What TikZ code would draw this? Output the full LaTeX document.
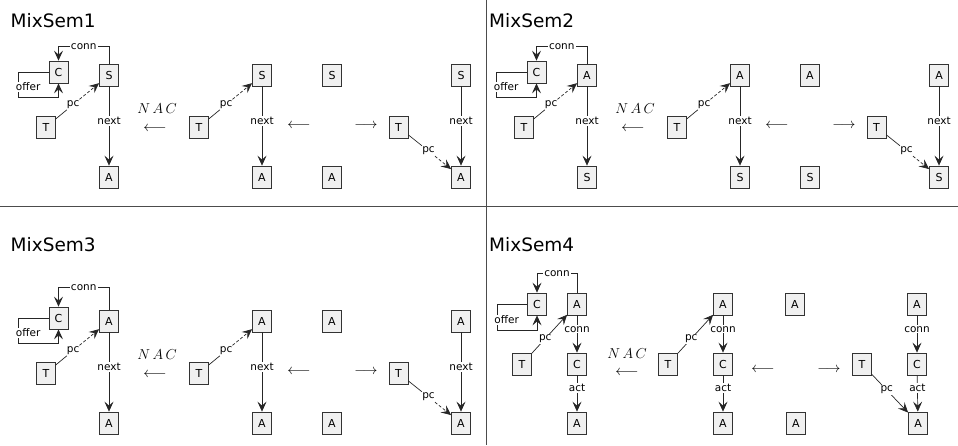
\documentclass[tikz,border=0pt]{standalone}
\usepackage{fontspec}
\setmainfont{DejaVu Sans}
\usetikzlibrary{arrows.meta, positioning}

\begin{document}
\begin{tikzpicture}[
  x=1pt, y=-1pt,
  every node/.style={font=\fontsize{10.5}{12}\selectfont, text=black},
  cls/.style={draw=black!80, fill=black!6, line width=0.75pt, minimum width=19pt,
    minimum height=22pt, inner sep=0pt, font=\fontsize{11}{12}\selectfont},
  lbl/.style={fill=white, inner sep=1pt},
  lnk/.style={draw=black!85, line width=0.7pt},
  arr/.style={lnk, -{Stealth[length=10pt,width=9pt,inset=4pt]}},
  dsh/.style={dash pattern=on 3pt off 2pt},
  nac/.style={font=\fontsize{14}{15}\selectfont, inner sep=0pt},
  ttl/.style={font=\fontsize{18.5}{20}\selectfont, anchor=base west, inner sep=0pt},
  rule/.style={draw=black!70, line width=0.7pt}
]
\useasboundingbox (0,0) rectangle (958,445);
% frame between the four rules
\draw[rule] (0,206) -- (958,206);
\draw[rule] (486,0) -- (486,445);
\foreach \p/\x/\y in {1/10.5/27.5, 2/489/27.5, 3/10.5/251.5, 4/489/251.5}
  \node[ttl] (hd\p) at (\x,\y) {MixSem\p};

% MixSem1..3: same shape, only the class names change
\foreach \p/\dx/\dy/\topc/\botc/\h in {1/0/0/S/A/17, 2/478/0/A/S/17, 3/0/246/A/A/22}{
  \begin{scope}[shift={(\dx,\dy)}]
    % NAC
    \node[cls] (c\p) at (58.5,72) {C};
    \node[cls] (s\p) at (109,75) {\topc};
    \node[cls] (t\p) at (46,127) {T};
    \node[cls] (a\p) at (109,177) {\botc};
    \draw[arr] (s\p.north) -- ++(0,-\h) -| node[lbl,pos=0.25] (cn\p) {conn} (c\p.north);
    \draw[arr] (c\p.west) -| ++(-30,25)
      node[lbl,pos=0.8,anchor=west,xshift=-4pt] (of\p) {offer} -| (c\p.south);
    \path (t\p) -- node[lbl,pos=0.4] (pc\p) {pc} (s\p);
    \draw[lnk] (t\p) -- (pc\p);
    \draw[arr,dsh] (pc\p) -- (s\p);
    \draw[arr] (s\p) -- node[lbl,pos=0.44] (nx\p) {next} (a\p);
    \node[nac] (nac\p) at (157,109) {$N\,A\,C$};
    \node[nac] (nl\p) at (155,129) {$\longleftarrow$};
    % left hand side
    \node[cls] (lt\p) at (199,127) {T};
    \node[cls] (ls\p) at (262,75) {\topc};
    \node[cls] (la\p) at (262,177) {\botc};
    \path (lt\p) -- node[lbl,pos=0.4] (lpc\p) {pc} (ls\p);
    \draw[lnk] (lt\p) -- (lpc\p);
    \draw[arr,dsh] (lpc\p) -- (ls\p);
    \draw[arr] (ls\p) -- node[lbl,pos=0.44] (lnx\p) {next} (la\p);
    \node[nac] (ll\p) at (299,126) {$\longleftarrow$};
    % interface
    \node[cls] (ks\p) at (332,75) {\topc};
    \node[cls] (ka\p) at (332,177) {\botc};
    \node[nac] (kr\p) at (366,126) {$\longrightarrow$};
    % right hand side
    \node[cls] (rt\p) at (398.5,127) {T};
    \node[cls] (rs\p) at (461,75) {\topc};
    \node[cls] (ra\p) at (461,177) {\botc};
    \path (rt\p) -- node[lbl,pos=0.47] (rpc\p) {pc} (ra\p);
    \draw[lnk] (rt\p) -- (rpc\p);
    \draw[arr,dsh] (rpc\p) -- (ra\p);
    \draw[arr] (rs\p) -- node[lbl,pos=0.44] (rnx\p) {next} (ra\p);
  \end{scope}
}

% MixSem4
\node[cls] (c4) at (537,304) {C};
\node[cls] (s4) at (577,304) {A};
\node[cls] (t4) at (522,364) {T};
\node[cls] (m4) at (577,364) {C};
\node[cls] (a4) at (577,423) {A};
\draw[arr] (s4.north) -- ++(0,-19) -| node[lbl,pos=0.25] (cn4) {conn} (c4.north);
\draw[arr] (c4.west) -| ++(-30,26)
  node[lbl,pos=0.8,anchor=west,xshift=-4pt] (of4) {offer} -| (c4.south);
\draw[arr] (t4) -- node[lbl,pos=0.38] (pc4) {pc} (s4);
\draw[arr] (s4) -- node[lbl,pos=0.37] (cm4) {conn} (m4);
\draw[arr] (m4) -- node[lbl,pos=0.35] (ac4) {act} (a4);
\node[nac] (nac4) at (627,354) {$N\,A\,C$};
\node[nac] (nl4) at (627,373) {$\longleftarrow$};
% left hand side
\node[cls] (lt4) at (668,364) {T};
\node[cls] (ls4) at (723,304) {A};
\node[cls] (lm4) at (723,364) {C};
\node[cls] (la4) at (723,423) {A};
\draw[arr] (lt4) -- node[lbl,pos=0.38] (lpc4) {pc} (ls4);
\draw[arr] (ls4) -- node[lbl,pos=0.37] (lcm4) {conn} (lm4);
\draw[arr] (lm4) -- node[lbl,pos=0.35] (lac4) {act} (la4);
\node[nac] (ll4) at (763,370) {$\longleftarrow$};
% interface
\node[cls] (ks4) at (795,304) {A};
\node[cls] (ka4) at (796,423) {A};
\node[nac] (kr4) at (829,370) {$\longrightarrow$};
% right hand side
\node[cls] (rt4) at (862,364) {T};
\node[cls] (rs4) at (917,304) {A};
\node[cls] (rm4) at (917,364) {C};
\node[cls] (ra4) at (918,423) {A};
\draw[arr] (rt4) -- node[lbl,pos=0.41] (rpc4) {pc} (ra4);
\draw[arr] (rs4) -- node[lbl,pos=0.37] (rcm4) {conn} (rm4);
\draw[arr] (rm4) -- node[lbl,pos=0.35] (rac4) {act} (ra4);
\end{tikzpicture}
\end{document}
